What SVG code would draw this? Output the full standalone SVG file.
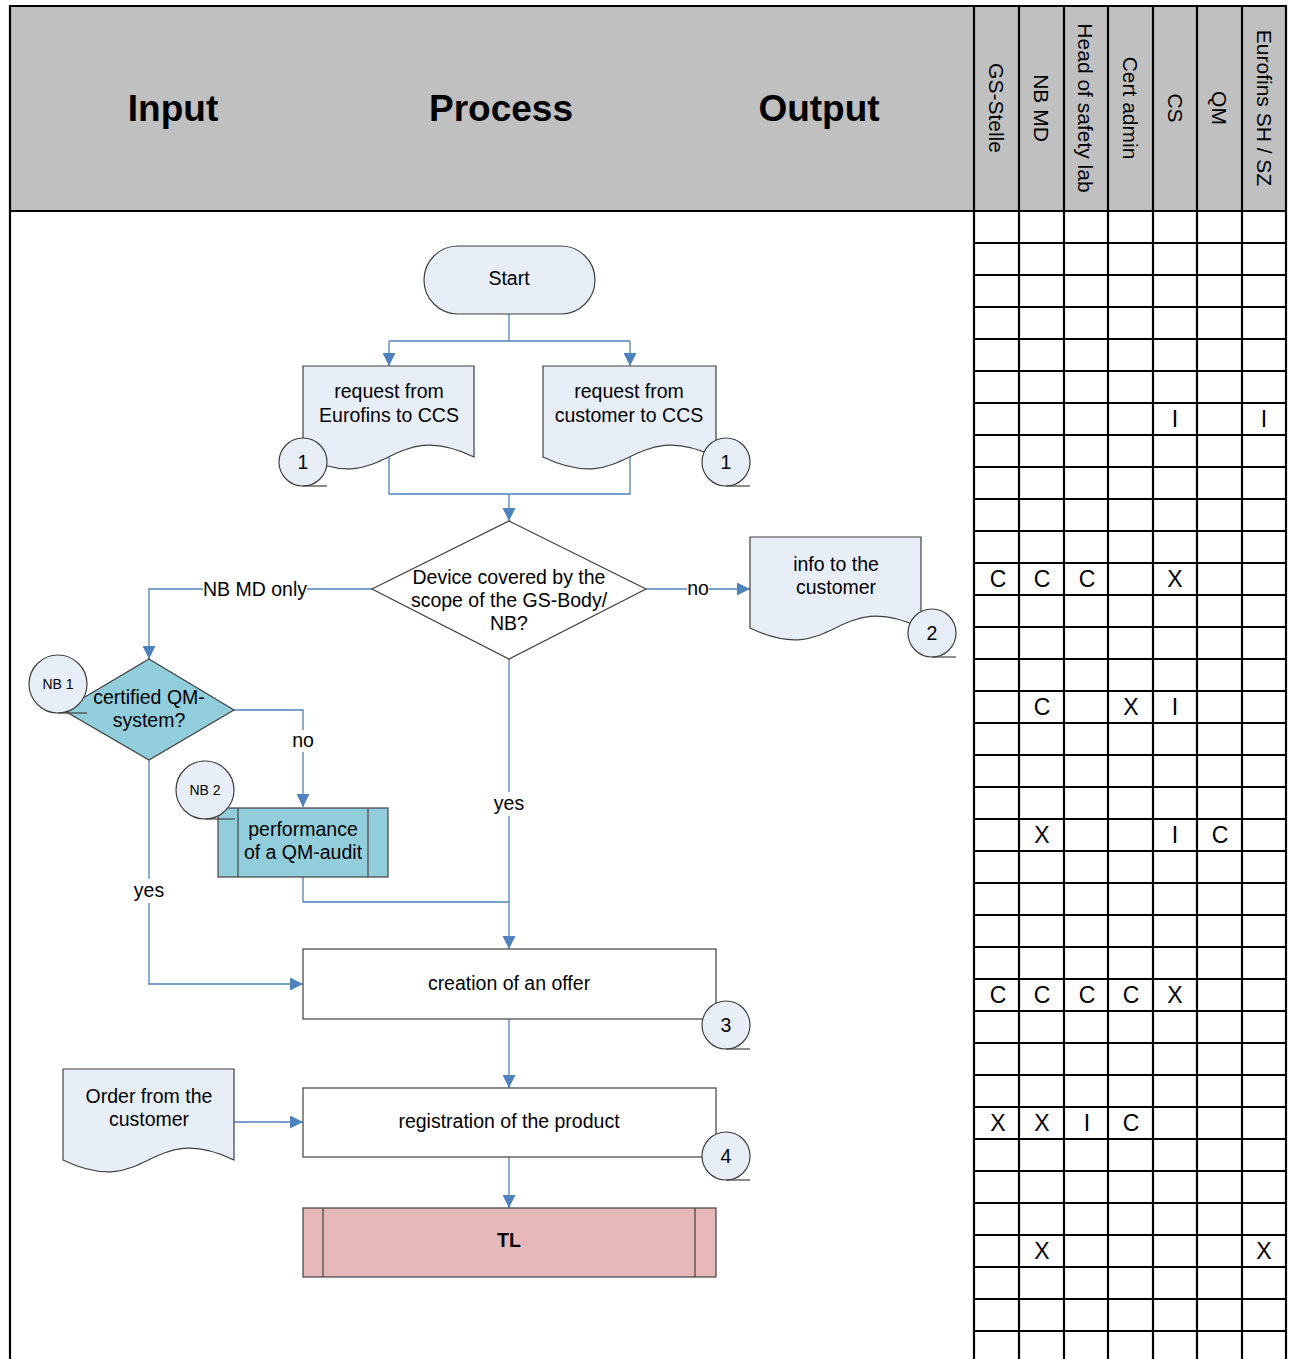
<svg xmlns="http://www.w3.org/2000/svg" width="1289" height="1359" viewBox="0 0 1289 1359">
<style>
text{font-family:"Liberation Sans",Arial,sans-serif;fill:#000}
.t{font-size:19.5px;text-anchor:middle}
.h{font-size:37px;font-weight:bold;text-anchor:middle}
.v{font-size:21px;text-anchor:middle;dominant-baseline:central}
.g{font-size:23px;text-anchor:middle}
.nb{font-size:14px;text-anchor:middle}
.shape{stroke:#404040;stroke-width:1.2}
.lb{fill:#E8EEF7}
.teal{fill:#92CDDC}
.pink{fill:#E6B9B8}
.wh{fill:#fff}
.conn{fill:none;stroke:#4F81BD;stroke-width:1.3}
.grid{stroke:#000;stroke-width:2.2;fill:none}
.tail{stroke:#404040;stroke-width:1.2}
</style>
<defs>
<marker id="arr" markerUnits="userSpaceOnUse" markerWidth="13" markerHeight="13" refX="13" refY="6.5" orient="auto">
<path d="M0,0 L13,6.5 L0,13 Z" fill="#4F81BD"/>
</marker>
</defs>

<g id="header">
<rect x="10" y="6" width="1276" height="205" fill="#C0C0C0"/>
<text class="h" x="173" y="121">Input</text>
<text class="h" x="501" y="121">Process</text>
<text class="h" x="819" y="121">Output</text>
<text class="v" transform="translate(996,108) rotate(90)">GS-Stelle</text>
<text class="v" transform="translate(1041,108) rotate(90)">NB MD</text>
<text class="v" transform="translate(1085,108) rotate(90)">Head of safety lab</text>
<text class="v" transform="translate(1130,108) rotate(90)">Cert admin</text>
<text class="v" transform="translate(1175,108) rotate(90)">CS</text>
<text class="v" transform="translate(1219,108) rotate(90)">QM</text>
<text class="v" transform="translate(1264,108) rotate(90)">Eurofins SH / SZ</text>
</g>

<g id="grid" class="grid">
<path d="M10,6 H1286 M10,211 H1286 M10,5 V1359 M974,6 V1359 M1019,6 V1359 M1064,6 V1359 M1108,6 V1359 M1153,6 V1359 M1197,6 V1359 M1242,6 V1359 M1286,5 V1359"/>
<path d="M974,243 H1286 M974,275 H1286 M974,307 H1286 M974,339 H1286 M974,371 H1286 M974,403 H1286 M974,435 H1286 M974,467 H1286 M974,499 H1286 M974,531 H1286 M974,563 H1286 M974,595 H1286 M974,627 H1286 M974,659 H1286 M974,691 H1286 M974,723 H1286 M974,755 H1286 M974,787 H1286 M974,819 H1286 M974,851 H1286 M974,883 H1286 M974,915 H1286 M974,947 H1286 M974,979 H1286 M974,1011 H1286 M974,1043 H1286 M974,1075 H1286 M974,1107 H1286 M974,1139 H1286 M974,1171 H1286 M974,1203 H1286 M974,1235 H1286 M974,1267 H1286 M974,1299 H1286 M974,1331 H1286"/>
</g>

<g id="matrix">
<text class="g" x="1175" y="427">I</text>
<text class="g" x="1264" y="427">I</text>
<text class="g" x="998" y="587">C</text>
<text class="g" x="1042" y="587">C</text>
<text class="g" x="1087" y="587">C</text>
<text class="g" x="1175" y="587">X</text>
<text class="g" x="1042" y="715">C</text>
<text class="g" x="1131" y="715">X</text>
<text class="g" x="1175" y="715">I</text>
<text class="g" x="1042" y="843">X</text>
<text class="g" x="1175" y="843">I</text>
<text class="g" x="1220" y="843">C</text>
<text class="g" x="998" y="1003">C</text>
<text class="g" x="1042" y="1003">C</text>
<text class="g" x="1087" y="1003">C</text>
<text class="g" x="1131" y="1003">C</text>
<text class="g" x="1175" y="1003">X</text>
<text class="g" x="998" y="1131">X</text>
<text class="g" x="1042" y="1131">X</text>
<text class="g" x="1087" y="1131">I</text>
<text class="g" x="1131" y="1131">C</text>
<text class="g" x="1042" y="1259">X</text>
<text class="g" x="1264" y="1259">X</text>
</g>

<g id="connectors">
<path class="conn" d="M509,314 V341"/>
<path class="conn" d="M389,341 H630"/>
<path class="conn" d="M389,341 V366" marker-end="url(#arr)"/>
<path class="conn" d="M630,341 V366" marker-end="url(#arr)"/>
<path class="conn" d="M389,457 V494 H630 V457"/>
<path class="conn" d="M509,494 V521" marker-end="url(#arr)"/>
<path class="conn" d="M646,589 H750" marker-end="url(#arr)"/>
<path class="conn" d="M372,589 H149 V659" marker-end="url(#arr)"/>
<path class="conn" d="M234,710 H303 V807" marker-end="url(#arr)"/>
<path class="conn" d="M303,877 V902 H509"/>
<path class="conn" d="M509,659 V949" marker-end="url(#arr)"/>
<path class="conn" d="M149,760 V984 H303" marker-end="url(#arr)"/>
<path class="conn" d="M509,1019 V1088" marker-end="url(#arr)"/>
<path class="conn" d="M234,1122 H303" marker-end="url(#arr)"/>
<path class="conn" d="M509,1157 V1208" marker-end="url(#arr)"/>
<rect class="wh" x="203" y="578" width="104" height="22"/>
<text class="t" x="255" y="596">NB MD only</text>
<rect class="wh" x="687" y="578" width="22" height="22"/>
<text class="t" x="698" y="595">no</text>
<rect class="wh" x="291" y="730" width="24" height="22"/>
<text class="t" x="303" y="747">no</text>
<rect class="wh" x="493" y="792" width="32" height="24"/>
<text class="t" x="509" y="810">yes</text>
<rect class="wh" x="133" y="879" width="32" height="24"/>
<text class="t" x="149" y="897">yes</text>
</g>

<g id="start">
<rect class="shape lb" x="424" y="246" width="171" height="68" rx="34" ry="34"/>
<text class="t" x="509" y="285">Start</text>
</g>

<g id="req-eurofins">
<path class="shape lb" d="M303,366 H474 V457 C388.5,416 388.5,498 303,457 Z"/>
<text class="t" x="389" y="398">request from</text>
<text class="t" x="389" y="422">Eurofins to CCS</text>
<circle class="shape lb" cx="303" cy="462" r="24"/>
<line class="tail" x1="303" y1="486" x2="327" y2="486"/>
<text class="t" x="303" y="469">1</text>
</g>

<g id="req-customer">
<path class="shape lb" d="M543,366 H716 V457 C629.5,416 629.5,498 543,457 Z"/>
<text class="t" x="629" y="398">request from</text>
<text class="t" x="629" y="422">customer to CCS</text>
<circle class="shape lb" cx="726" cy="462" r="24"/>
<line class="tail" x1="726" y1="486" x2="750" y2="486"/>
<text class="t" x="726" y="469">1</text>
</g>

<g id="decision-scope">
<path class="shape wh" d="M509,521 L646,589 L509,659 L372,589 Z"/>
<text class="t" x="509" y="584">Device covered by the</text>
<text class="t" x="509" y="607">scope of the GS-Body/</text>
<text class="t" x="509" y="630">NB?</text>
</g>

<g id="info-customer">
<path class="shape lb" d="M750,537 H921 V628 C835.5,587 835.5,669 750,628 Z"/>
<text class="t" x="836" y="571">info to the</text>
<text class="t" x="836" y="594">customer</text>
<circle class="shape lb" cx="932" cy="633" r="24"/>
<line class="tail" x1="932" y1="657" x2="956" y2="657"/>
<text class="t" x="932" y="640">2</text>
</g>

<g id="decision-qm">
<path class="shape teal" d="M149,659 L234,710 L149,760 L63,710 Z"/>
<text class="t" x="149" y="704">certified QM-</text>
<text class="t" x="149" y="727">system?</text>
<circle class="shape lb" cx="58" cy="684" r="29"/>
<line class="tail" x1="58" y1="713" x2="87" y2="713"/>
<text class="nb" x="58" y="689">NB 1</text>
</g>

<g id="qm-audit">
<rect class="shape teal" x="218" y="808" width="170" height="69"/>
<line class="tail" x1="238" y1="808" x2="238" y2="877"/>
<line class="tail" x1="368" y1="808" x2="368" y2="877"/>
<text class="t" x="303" y="836">performance</text>
<text class="t" x="303" y="859">of a QM-audit</text>
<circle class="shape lb" cx="205" cy="790" r="29"/>
<line class="tail" x1="205" y1="819" x2="235" y2="819"/>
<text class="nb" x="205" y="795">NB 2</text>
</g>

<g id="offer">
<rect class="shape wh" x="303" y="949" width="413" height="70"/>
<text class="t" x="509" y="990">creation of an offer</text>
<circle class="shape lb" cx="726" cy="1025" r="24"/>
<line class="tail" x1="726" y1="1049" x2="750" y2="1049"/>
<text class="t" x="726" y="1032">3</text>
</g>

<g id="registration">
<rect class="shape wh" x="303" y="1088" width="413" height="69"/>
<text class="t" x="509" y="1128">registration of the product</text>
<circle class="shape lb" cx="726" cy="1156" r="24"/>
<line class="tail" x1="726" y1="1180" x2="750" y2="1180"/>
<text class="t" x="726" y="1163">4</text>
</g>

<g id="order">
<path class="shape lb" d="M63,1069 H234 V1160 C148.5,1119 148.5,1201 63,1160 Z"/>
<text class="t" x="149" y="1103">Order from the</text>
<text class="t" x="149" y="1126">customer</text>
</g>

<g id="tl">
<rect class="shape pink" x="303" y="1208" width="413" height="69"/>
<line class="tail" x1="323" y1="1208" x2="323" y2="1277"/>
<line class="tail" x1="695" y1="1208" x2="695" y2="1277"/>
<text class="t" x="509" y="1247" font-weight="bold">TL</text>
</g>
</svg>
